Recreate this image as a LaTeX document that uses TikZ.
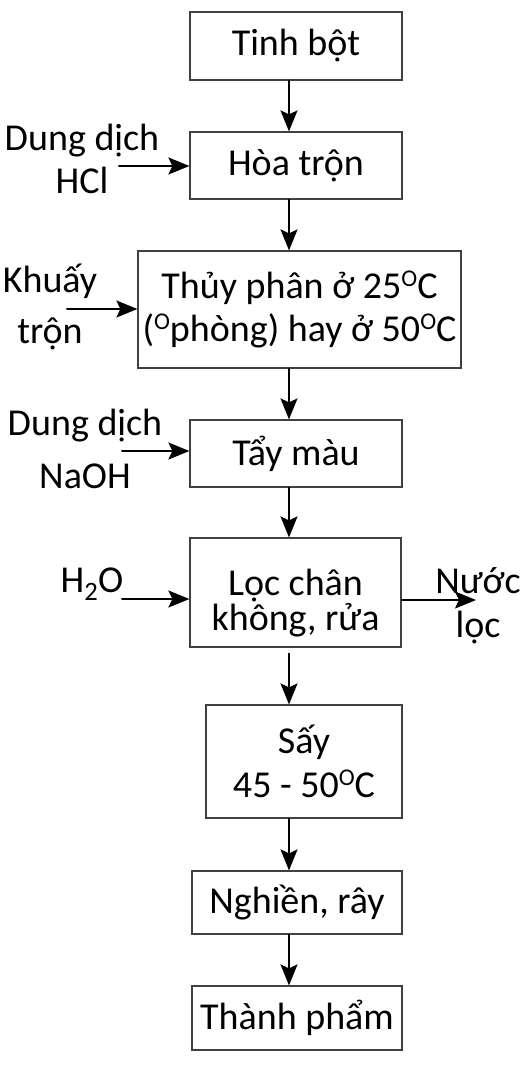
\documentclass[tikz,border=0pt]{standalone}
\usepackage{fontspec}
\setmainfont{Carlito}
\usetikzlibrary{positioning, arrows.meta, calc}

\begin{document}
\begin{tikzpicture}[x=1pt, y=-1pt, line cap=round,
  >={Stealth[length=21pt, width=17pt, inset=4pt]},
  font=\fontsize{38}{43}\selectfont,
  hop/.style={draw=black!75, line width=1.2pt, inner sep=0pt, align=center},
  flow/.style={->, line width=2pt},
  lbl/.style={inner sep=0pt, align=center}]

  % Parámetros
  \def\colx{289}   % columna de las flechas principales
  \def\gO{\raisebox{12pt}{\fontsize{24}{24}\selectfont O}}
  \def\oC{\gO C}

  \useasboundingbox (0,0) rectangle (530,1069);
  \coordinate (col) at (\colx,0);

  % --- Etapas del proceso ---
  \node[hop, minimum width=212, minimum height=68] (tinhbot) at (296,46) {Tinh bột};
  \node[hop, minimum width=212, minimum height=67] (hoatron) at (296,165.5) {Hòa trộn};
  \node[hop, minimum width=323, minimum height=117] (thuyphan) at (299.5,309.5)
    {Thủy phân ở 25\oC\\(\gO phòng) hay ở 50\oC};
  \node[hop, minimum width=212, minimum height=67] (taymau) at (296,453.5) {Tẩy màu};
  \node[hop, minimum width=211, minimum height=109] (locchan) at (295.5,592.5)
    {\rule{0pt}{48pt}Lọc chân\\[-8pt]không, rửa};
  \node[hop, minimum width=196, minimum height=113] (say) at (304,761.5) {Sấy\\[1pt]45 - 50\oC};
  \node[hop, minimum width=210, minimum height=63] (nghien) at (297,902.5) {Nghiền, rây};
  \node[hop, minimum width=210, minimum height=64] (thanhpham) at (297,1018) {Thành phẩm};

  % --- Flujo principal ---
  \draw[flow] (tinhbot.south -| col) -- (hoatron.north -| col);
  \draw[flow] (hoatron.south -| col) -- (thuyphan.north -| col);
  \draw[flow] (thuyphan.south -| col) -- (taymau.north -| col);
  \draw[flow] (taymau.south -| col) -- (locchan.north -| col);
  \draw[flow] ($(locchan.south -| col)+(0,6)$) -- (say.north -| col);
  \draw[flow] (say.south -| col) -- (nghien.north -| col);
  \draw[flow] (nghien.south -| col) -- (thanhpham.north -| col);

  % --- Entradas y salidas laterales ---
  \node[lbl, anchor=base] (hcl) at (82,193) {Dung dịch\\HCl};
  \node[lbl, anchor=base] (khuay) at (50,343) {Khuấy\\[8pt]trộn};
  \node[lbl, anchor=base] (naoh) at (85,488) {Dung dịch\\[10pt]NaOH};
  \node[lbl, anchor=base] (nuoc) at (92,592) {H\textsubscript{2}O};
  \node[lbl, anchor=base] (nuocloc) at (478,637) {Nước\\[1pt]lọc};

  \coordinate (hclin) at (119,166);
  \coordinate (khuayin) at (67,309);
  \coordinate (naohin) at (122,451);
  \coordinate (nuocin) at (122,599);
  \coordinate (locout) at (476,600);

  \draw[flow] (hclin) -- (hoatron.west |- hclin);
  \draw[flow] (khuayin) -- (thuyphan.west |- khuayin);
  \draw[flow] (naohin) -- (taymau.west |- naohin);
  \draw[flow] (nuocin) -- (locchan.west |- nuocin);
  \draw[flow] (locchan.east |- locout) -- (locout);

\end{tikzpicture}
\end{document}
